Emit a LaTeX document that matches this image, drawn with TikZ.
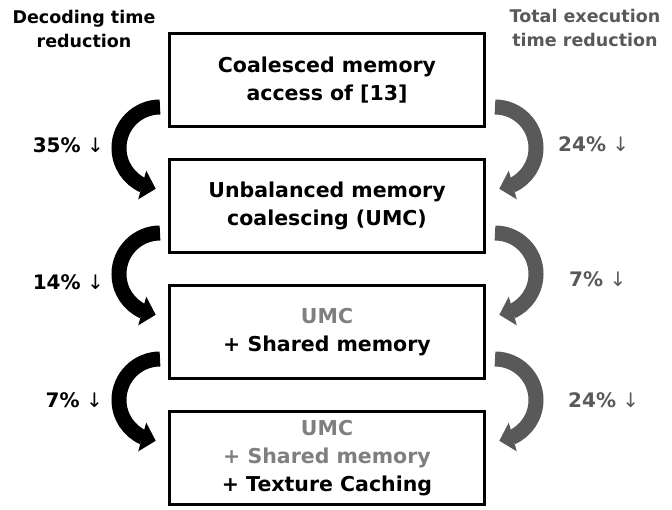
\documentclass[tikz,border=0pt]{standalone}
\usepackage{fontspec}
\setmainfont{DejaVu Sans}
\usetikzlibrary{arrows.meta,bending}
\definecolor{dgray}{HTML}{595959}
\definecolor{lgray}{HTML}{7F7F7F}
\newcommand{\dn}{{\mdseries\ ↓}}
\begin{document}
\begin{tikzpicture}[x=1pt,y=1pt,
  box/.style={draw=black, line width=3pt, minimum width=315pt, minimum height=93pt,
    align=center, font=\bfseries\fontsize{20.5}{28}\selectfont, inner sep=0pt},
  hdr/.style={align=center, font=\bfseries\fontsize{17.5}{24}\selectfont, inner sep=0pt},
  pct/.style={font=\bfseries\fontsize{20}{24}\selectfont, inner sep=0pt},
  larr/.style={line width=15pt, draw=black, -{Triangle[length=14pt,width=29pt]}},
  rarr/.style={line width=15pt, draw=dgray, -{Triangle[length=14pt,width=29pt]}}]
\useasboundingbox (0,0) rectangle (672,-510);
% boxes
\node[box] (b1) at (327,-80) {Coalesced memory\\access of [13]};
\node[box] (b2) at (327,-206) {Unbalanced memory\\coalescing (UMC)};
\node[box] (b3) at (327,-332) {\textcolor{lgray}{UMC}\\+ Shared memory};
\node[box] (b4) at (327,-458) {\textcolor{lgray}{UMC}\\\textcolor{lgray}{+ Shared memory}\\+ Texture Caching};
% headers
\node[hdr] (h1) at (84,-29) {Decoding time\\reduction};
\node[hdr, text=dgray] (h2) at (585,-28) {Total execution\\time reduction};
% left arrows
\draw[larr] ([shift={(-8,21)}]b1.south west) arc[start angle=90, end angle=264, radius=41];
\draw[larr] ([shift={(-8,21)}]b2.south west) arc[start angle=90, end angle=264, radius=41];
\draw[larr] ([shift={(-8,21)}]b3.south west) arc[start angle=90, end angle=264, radius=41];
% right arrows
\draw[rarr] ([shift={(9,21)}]b1.south east) arc[start angle=90, end angle=-84, radius=41];
\draw[rarr] ([shift={(9,21)}]b2.south east) arc[start angle=90, end angle=-84, radius=41];
\draw[rarr] ([shift={(9,21)}]b3.south east) arc[start angle=90, end angle=-84, radius=41];
% labels
\node[pct, anchor=base east] (l1) at (104,-153) {35\%\dn};
\node[pct, anchor=base east] (l2) at (104,-290) {14\%\dn};
\node[pct, anchor=base east] (l3) at (103,-408) {7\%\dn};
\node[pct, anchor=base west, text=dgray] (r1) at (558,-152) {24\%\dn};
\node[pct, anchor=base west, text=dgray] (r2) at (569,-287) {7\%\dn};
\node[pct, anchor=base west, text=dgray] (r3) at (568,-407) {24\%\dn};
\end{tikzpicture}
\end{document}
